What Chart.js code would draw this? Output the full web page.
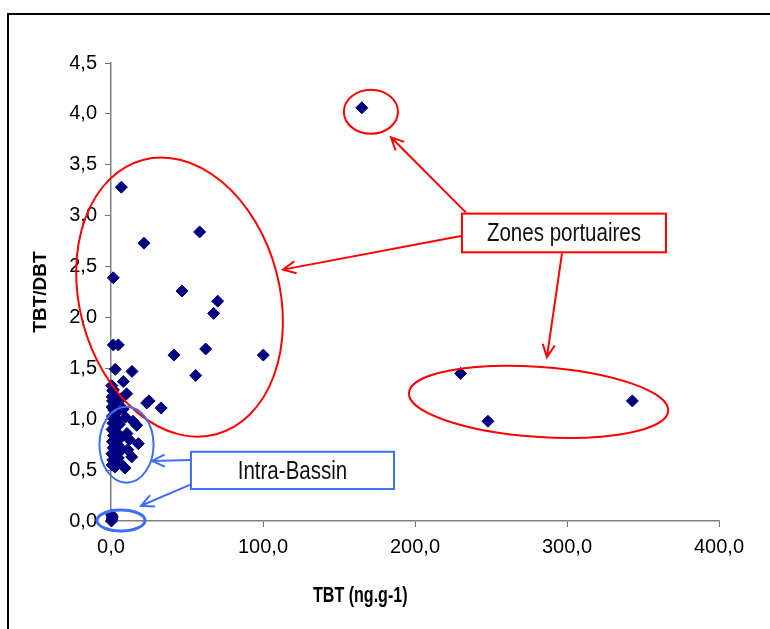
<!DOCTYPE html>
<html>
<head>
<meta charset="utf-8">
<title>TBT/DBT</title>
<script src="https://cdn.jsdelivr.net/npm/chart.js@4.4.1/dist/chart.umd.min.js"></script>
<style>
  html, body { margin: 0; padding: 0; background: #fff; overflow: hidden; }
  #wrap { position: relative; width: 770px; height: 629px; }
  #frame { position: absolute; left: 7px; top: 13px; width: 800px; height: 700px; border: 2px solid #000; box-sizing: border-box; }
  canvas { position: absolute; left: 0; top: 0; }
</style>
</head>
<body>
<div id="wrap">
  <div id="frame"></div>
  <canvas id="myChart" width="770" height="629"></canvas>
</div>
<script>
// TBT (ng.g-1) and TBT/DBT ratio
const tbtValues = [
  165, 6.8, 21.7, 58.3, 1.5, 46.7, 70.2, 67.5, 1.5, 4.8, 41.4, 62.3, 100.2, 55.7,
  2.8, 13.8, 8.1, 1.5, 10.3, 25.0, 23.5, 33.0, 230, 248, 343,
  0.5, 1.2, 0.8, 2.0, 1.0, 2.5, 0.6, 1.8, 3.2, 0.9, 2.2, 4.0, 1.3, 3.0, 5.5,
  0.7, 2.4, 4.5, 1.6, 3.6, 6.5, 0.9, 2.8, 5.0, 1.4, 3.9, 7.0, 0.6, 2.1, 4.8,
  1.2, 3.3, 6.0, 0.8, 2.6, 9.2, 13.6, 11.0, 18.0, 10.5, 12.0, 16.9, 14.5, 9.5,
  8.0, 6.5, 0.3, 0.6, 0.9, 0.4
];
const ratioValues = [
  4.06, 3.28, 2.73, 2.84, 2.39, 2.26, 2.16, 2.04, 1.73, 1.73, 1.63, 1.69, 1.63, 1.43,
  1.49, 1.47, 1.37, 1.29, 1.25, 1.18, 1.16, 1.11, 1.45, 0.98, 1.18,
  1.33, 1.28, 1.22, 1.24, 1.18, 1.15, 1.12, 1.09, 1.06, 1.03, 1.00, 0.99, 0.96, 0.93, 0.95,
  0.90, 0.88, 0.86, 0.84, 0.81, 0.82, 0.78, 0.76, 0.74, 0.72, 0.69, 0.70, 0.66, 0.64, 0.62,
  0.60, 0.58, 0.57, 0.55, 0.53, 0.52, 0.63, 0.70, 0.76, 0.86, 0.80, 0.94, 0.98, 1.02,
  1.10, 1.20, 0.00, 0.02, 0.04, 0.06
];
const xTicks = [0, 100, 200, 300, 400];
const yTicks = [0, 0.5, 1, 1.5, 2, 2.5, 3, 3.5, 4, 4.5];

// callouts, in data units
const redRings = [
  { x: 171, y: 4.02, rx: 17.8, ry: 0.216, rot: 0 },
  { x: 45.1, y: 2.20, rx: 65.8, ry: 1.395, rot: -15 },
  { x: 281.3, y: 1.17, rx: 85.5, ry: 0.344, rot: 4 }
];
const blueRings = [
  { x: 10.2, y: 0.75, rx: 17.8, ry: 0.373, rot: 0, w: 2 },
  { x: 6.6, y: 0.005, rx: 15.8, ry: 0.103, rot: 0, w: 3 }
];
const redArrows = [
  [233.6, 3.03, 184.2, 3.77],
  [230.3, 2.80, 113.2, 2.47],
  [296.7, 2.63, 286.8, 1.61]
];
const blueArrows = [
  [52.6, 0.60, 27.0, 0.59],
  [52.6, 0.36, 19.7, 0.15]
];
const redBox = { x1: 230.9, y1: 3.02, x2: 365.1, y2: 2.64, text: 'Zones portuaires' };
const blueBox = { x1: 52.6, y1: 0.68, x2: 186.2, y2: 0.314, text: 'Intra-Bassin' };

const RED = '#ff0000';
const BLUE = '#3f6ff0';
const FONT = "'Liberation Sans', Arial, sans-serif";

const points = tbtValues.map((v, i) => ({ x: v, y: ratioValues[i] }));
const fmt = v => Number(v).toFixed(1).replace('.', ',');

// the original text is squeezed sideways, so draw it narrowed
const narrowText = (ctx, text, x, y, font, squeeze) => {
  ctx.save();
  ctx.translate(x, y);
  ctx.scale(squeeze, 1);
  ctx.font = font;
  ctx.textAlign = 'center';
  ctx.textBaseline = 'middle';
  ctx.fillText(text, 0, 0);
  ctx.restore();
};

const callouts = {
  id: 'callouts',
  afterDatasetsDraw(chart) {
    const ctx = chart.ctx;
    const xs = chart.scales.x, ys = chart.scales.y;
    const px = v => xs.getPixelForValue(v);
    const py = v => ys.getPixelForValue(v);

    const ring = (r, color, w) => {
      const cx = px(r.x), cy = py(r.y);
      const rx = Math.abs(px(r.x + r.rx) - cx), ry = Math.abs(py(r.y + r.ry) - cy);
      ctx.beginPath();
      ctx.ellipse(cx, cy, rx, ry, r.rot * Math.PI / 180, 0, Math.PI * 2);
      ctx.strokeStyle = color;
      ctx.lineWidth = w;
      ctx.stroke();
    };
    const arrow = (a, color) => {
      const x1 = px(a[0]), y1 = py(a[1]), x2 = px(a[2]), y2 = py(a[3]);
      const ang = Math.atan2(y2 - y1, x2 - x1);
      ctx.strokeStyle = color;
      ctx.lineWidth = 2;
      ctx.beginPath();
      ctx.moveTo(x1, y1);
      ctx.lineTo(x2, y2);
      ctx.moveTo(x2 - 14 * Math.cos(ang - 0.45), y2 - 14 * Math.sin(ang - 0.45));
      ctx.lineTo(x2, y2);
      ctx.lineTo(x2 - 14 * Math.cos(ang + 0.45), y2 - 14 * Math.sin(ang + 0.45));
      ctx.stroke();
    };
    const box = (b, color) => {
      const x1 = px(b.x1), y1 = py(b.y1), x2 = px(b.x2), y2 = py(b.y2);
      ctx.fillStyle = '#fff';
      ctx.fillRect(x1, y1, x2 - x1, y2 - y1);
      ctx.strokeStyle = color;
      ctx.lineWidth = 2;
      ctx.strokeRect(x1, y1, x2 - x1, y2 - y1);
      ctx.fillStyle = '#111';
      narrowText(ctx, b.text, (x1 + x2) / 2, (y1 + y2) / 2 + 1, '26px ' + FONT, 0.79);
    };

    ctx.save();
    redRings.forEach(r => ring(r, RED, 2));
    blueRings.forEach(r => ring(r, BLUE, r.w));
    redArrows.forEach(a => arrow(a, RED));
    blueArrows.forEach(a => arrow(a, BLUE));
    box(redBox, RED);
    box(blueBox, BLUE);

    // x axis title, set a little left of centre as in the original
    const area = chart.chartArea;
    ctx.fillStyle = '#000';
    narrowText(ctx, 'TBT (ng.g-1)', area.left + (area.right - area.left) * 0.41, 596, 'bold 22px ' + FONT, 0.73);
    ctx.restore();
  }
};

new Chart(document.getElementById('myChart').getContext('2d'), {
  type: 'scatter',
  data: {
    datasets: [{
      label: 'TBT/DBT',
      data: points,
      pointStyle: 'rectRot',
      pointRadius: 6,
      backgroundColor: '#000080',
      borderColor: '#000080',
      borderWidth: 1,
      clip: false
    }]
  },
  options: {
    responsive: false,
    animation: false,
    layout: { padding: { top: 63, right: 51, left: 0, bottom: 0 } },
    plugins: { legend: { display: false }, tooltip: { enabled: false } },
    scales: {
      x: {
        type: 'linear',
        min: 0,
        max: 400,
        afterBuildTicks: s => { s.ticks = xTicks.map(v => ({ value: v })); },
        afterFit: s => { s.height = 108; },
        grid: { drawOnChartArea: false, drawTicks: true, tickLength: 6, color: '#707070', lineWidth: 1 },
        border: { color: '#808080', width: 1.5 },
        ticks: { padding: 8, color: '#000', font: { family: FONT, size: 20 }, callback: fmt, maxRotation: 0 },
        title: { display: false }
      },
      y: {
        type: 'linear',
        min: 0,
        max: 4.5,
        afterBuildTicks: s => { s.ticks = yTicks.map(v => ({ value: v })); },
        afterFit: s => { s.width = 111; },
        grid: { drawOnChartArea: false, drawTicks: true, tickLength: 6, color: '#707070', lineWidth: 1 },
        border: { color: '#808080', width: 1.5 },
        ticks: { padding: 8, color: '#000', font: { family: FONT, size: 20 }, callback: fmt },
        title: { display: true, text: 'TBT/DBT', color: '#000', font: { family: FONT, size: 19, weight: 'bold' }, padding: { top: 29, bottom: 0 } }
      }
    }
  },
  plugins: [callouts]
});
</script>
</body>
</html>
